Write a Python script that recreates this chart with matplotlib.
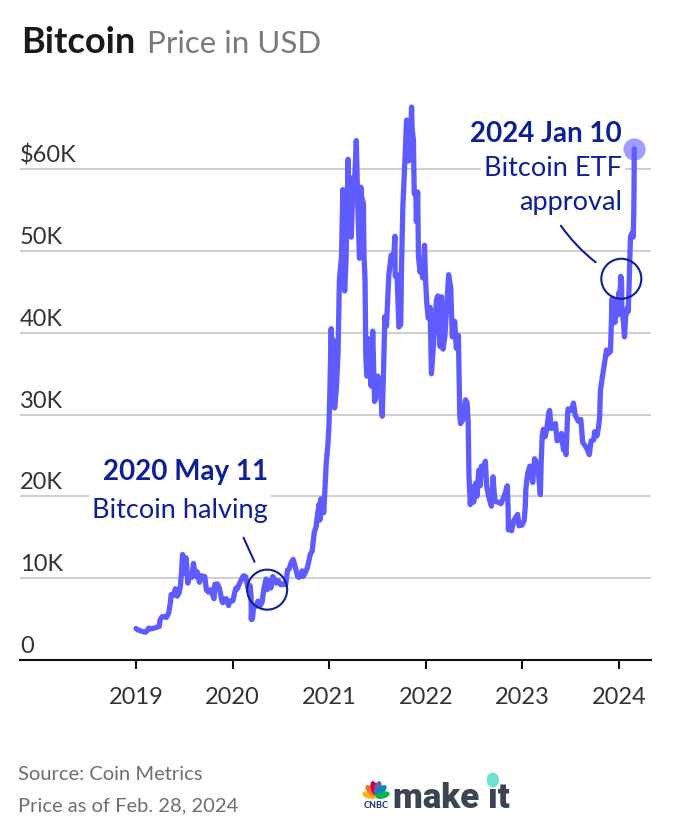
import matplotlib.pyplot as plt
import matplotlib.dates as mdates
from matplotlib.patches import Ellipse, Circle
import numpy as np
import pandas as pd

plt.rcParams['font.family'] = ['Lato', 'DejaVu Sans']

# Bitcoin close price (USD)
dates = [
    '2019-01-01', '2019-01-10', '2019-01-20', '2019-01-28', '2019-02-07', '2019-02-18', '2019-02-24',
    '2019-03-05', '2019-03-15', '2019-03-30', '2019-04-02', '2019-04-10', '2019-04-20', '2019-04-26',
    '2019-05-05', '2019-05-11', '2019-05-14', '2019-05-16', '2019-05-22', '2019-05-30', '2019-06-06',
    '2019-06-13', '2019-06-18', '2019-06-22', '2019-06-26', '2019-06-28', '2019-07-02', '2019-07-09',
    '2019-07-12', '2019-07-16', '2019-07-22', '2019-07-31', '2019-08-06', '2019-08-14', '2019-08-20',
    '2019-08-29', '2019-09-06', '2019-09-18', '2019-09-24', '2019-10-01', '2019-10-10', '2019-10-23',
    '2019-10-26', '2019-11-05', '2019-11-12', '2019-11-22', '2019-11-25', '2019-12-01', '2019-12-08',
    '2019-12-17', '2019-12-20', '2019-12-31',
    '2020-01-03', '2020-01-08', '2020-01-14', '2020-01-19', '2020-01-28', '2020-02-09', '2020-02-13',
    '2020-02-19', '2020-02-25', '2020-03-01', '2020-03-07', '2020-03-11', '2020-03-12', '2020-03-13',
    '2020-03-16', '2020-03-20', '2020-03-26', '2020-04-01', '2020-04-06', '2020-04-15', '2020-04-22',
    '2020-04-29', '2020-05-07', '2020-05-09', '2020-05-11', '2020-05-18', '2020-05-25', '2020-06-01',
    '2020-06-10', '2020-06-15', '2020-06-22', '2020-07-01', '2020-07-10', '2020-07-20', '2020-07-27',
    '2020-08-02', '2020-08-10', '2020-08-17', '2020-08-25', '2020-09-03', '2020-09-08', '2020-09-20',
    '2020-09-23', '2020-10-01', '2020-10-10', '2020-10-21', '2020-10-28', '2020-11-05', '2020-11-12',
    '2020-11-17', '2020-11-24', '2020-11-26', '2020-11-30', '2020-12-08', '2020-12-11', '2020-12-16',
    '2020-12-20', '2020-12-27', '2020-12-31',
    '2021-01-03', '2021-01-08', '2021-01-11', '2021-01-14', '2021-01-21', '2021-01-28', '2021-02-03',
    '2021-02-08', '2021-02-12', '2021-02-16', '2021-02-21', '2021-02-23', '2021-02-28', '2021-03-05',
    '2021-03-13', '2021-03-16', '2021-03-20', '2021-03-25', '2021-04-01', '2021-04-06', '2021-04-13',
    '2021-04-18', '2021-04-25', '2021-04-30', '2021-05-03', '2021-05-10', '2021-05-12', '2021-05-16',
    '2021-05-19', '2021-05-23', '2021-05-26', '2021-06-01', '2021-06-08', '2021-06-14', '2021-06-21',
    '2021-06-26', '2021-07-03', '2021-07-08', '2021-07-14', '2021-07-20', '2021-07-25', '2021-07-30',
    '2021-08-05', '2021-08-14', '2021-08-23', '2021-09-01', '2021-09-06', '2021-09-07', '2021-09-14',
    '2021-09-21', '2021-09-28', '2021-10-01', '2021-10-06', '2021-10-15', '2021-10-20', '2021-10-23',
    '2021-10-28', '2021-11-01', '2021-11-08', '2021-11-10', '2021-11-15', '2021-11-18', '2021-11-24',
    '2021-11-26', '2021-12-01', '2021-12-04', '2021-12-10', '2021-12-15', '2021-12-20', '2021-12-27',
    '2021-12-31',
    '2022-01-05', '2022-01-10', '2022-01-17', '2022-01-22', '2022-01-28', '2022-02-05', '2022-02-10',
    '2022-02-15', '2022-02-24', '2022-03-01', '2022-03-07', '2022-03-14', '2022-03-28', '2022-04-05',
    '2022-04-11', '2022-04-20', '2022-04-26', '2022-05-04', '2022-05-09', '2022-05-12', '2022-05-20',
    '2022-05-31', '2022-06-06', '2022-06-10', '2022-06-13', '2022-06-18', '2022-06-23', '2022-07-01',
    '2022-07-08', '2022-07-13', '2022-07-20', '2022-07-26', '2022-07-30', '2022-08-05', '2022-08-14',
    '2022-08-19', '2022-08-28', '2022-09-06', '2022-09-12', '2022-09-19', '2022-10-01', '2022-10-12',
    '2022-10-25', '2022-11-05', '2022-11-08', '2022-11-09', '2022-11-14', '2022-11-21', '2022-11-30',
    '2022-12-14', '2022-12-19', '2022-12-31',
    '2023-01-08', '2023-01-12', '2023-01-14', '2023-01-21', '2023-01-29', '2023-02-02', '2023-02-09',
    '2023-02-16', '2023-02-22', '2023-03-01', '2023-03-09', '2023-03-10', '2023-03-13', '2023-03-17',
    '2023-03-21', '2023-03-28', '2023-04-03', '2023-04-11', '2023-04-14', '2023-04-20', '2023-04-26',
    '2023-05-06', '2023-05-12', '2023-05-20', '2023-05-29', '2023-06-05', '2023-06-10', '2023-06-15',
    '2023-06-21', '2023-06-23', '2023-07-01', '2023-07-06', '2023-07-13', '2023-07-20', '2023-07-31',
    '2023-08-10', '2023-08-17', '2023-08-28', '2023-09-01', '2023-09-11', '2023-09-18', '2023-09-28',
    '2023-10-01', '2023-10-10', '2023-10-16', '2023-10-20', '2023-10-23', '2023-10-30', '2023-11-09',
    '2023-11-15', '2023-11-20', '2023-11-30', '2023-12-04', '2023-12-05', '2023-12-08', '2023-12-11',
    '2023-12-18', '2023-12-22', '2023-12-28',
    '2024-01-02', '2024-01-03', '2024-01-08', '2024-01-10', '2024-01-11', '2024-01-12', '2024-01-18',
    '2024-01-22', '2024-01-26', '2024-02-01', '2024-02-05', '2024-02-08', '2024-02-12', '2024-02-14',
    '2024-02-20', '2024-02-24', '2024-02-26', '2024-02-27', '2024-02-28',
]
prices = [
    3850, 3650, 3550, 3450, 3400, 3900, 3800,
    3850, 3950, 4100, 4900, 5300, 5300, 5200,
    5800, 7000, 8000, 7900, 7900, 8700, 7800,
    8200, 9100, 10700, 12900, 12400, 10600, 12500,
    11300, 9400, 10300, 10100, 11800, 10200, 10800,
    9500, 10300, 10200, 8600, 8300, 8600, 7500,
    9250, 9300, 8800, 7200, 7000, 7400, 7500,
    6650, 7200, 7200,
    7300, 8100, 8800, 8700, 9400, 10200, 10300,
    10200, 9300, 8600, 9100, 7900, 4950, 5600,
    5000, 6200, 6700, 6650, 7200, 6650, 7100,
    8800, 9900, 9800, 8600, 9700, 8800, 10200,
    9800, 9400, 9700, 9200, 9300, 9200, 11000,
    11100, 11900, 12300, 11400, 10200, 10100, 10900,
    10200, 10600, 11300, 12900, 13300, 15600, 16300,
    17700, 19100, 17100, 19700, 18300, 18000, 21300,
    23900, 26500, 29000,
    32800, 40500, 35500, 39200, 30800, 33400, 37600,
    46400, 47900, 49200, 57500, 48800, 45100, 48800,
    61200, 56000, 58300, 51700, 59000, 58000, 63500,
    56200, 49100, 57800, 56600, 55800, 49700, 46400,
    37000, 34700, 39300, 36700, 33500, 40200, 31600,
    32200, 34700, 32900, 32800, 29800, 35400, 42000,
    40800, 47100, 49500, 48800, 51800, 46900, 47100,
    40700, 41000, 48200, 55400, 62000, 66000, 61300,
    61000, 61300, 67600, 64900, 63600, 57000, 57100,
    53600, 57200, 49300, 47400, 48900, 46700, 50700,
    46300,
    43400, 41800, 43100, 35000, 37700, 41500, 44000,
    44500, 38300, 44400, 38000, 39600, 47100, 45500,
    39500, 41400, 38100, 39700, 30100, 28900, 29300,
    31800, 31400, 29100, 22500, 19000, 21200, 19300,
    21600, 20000, 23200, 21300, 23700, 23200, 24300,
    21200, 19800, 18800, 22400, 19400, 19300, 19100,
    20100, 21300, 18500, 15900, 16600, 15800, 17100,
    17800, 16400, 16500,
    17100, 18800, 20900, 22800, 23700, 23500, 21700,
    24600, 24200, 23600, 20400, 20200, 24200, 27400,
    28200, 27300, 28200, 30300, 30500, 28300, 28400,
    28900, 26800, 26900, 27700, 25700, 25800, 25100,
    30100, 30700, 30600, 30500, 31400, 29900, 29200,
    29400, 26600, 26100, 25900, 25100, 26800, 26900,
    27900, 27400, 28500, 29700, 33000, 34500, 36700,
    37900, 37400, 37700, 41900, 44100, 44200, 41200,
    41300, 44000, 42200,
    45000, 42800, 46900, 46600, 46300, 42800, 41300,
    39500, 41800, 43000, 42600, 45300, 50000, 51800,
    52200, 51700, 54500, 57000, 62500,
]

halving_date = '2020-05-11'
etf_date = '2024-01-10'

ytick_values = [0, 10000, 20000, 30000, 40000, 50000, 60000]
ytick_labels = ['0', '10K', '20K', '30K', '40K', '50K', '$60K']
years = [2019, 2020, 2021, 2022, 2023, 2024]

LINE = '#5f5cff'
NAVY = '#0f1f96'
TICK = '#333333'

W, H = 676, 840
fig = plt.figure(figsize=(W / 100, H / 100), dpi=100)


def fx(px):
    return px / W


def fy(py):
    return 1 - py / H


ax = fig.add_axes([fx(20), fy(660), fx(651) - fx(20), fy(71) - fy(660)])

t = pd.to_datetime(dates)
ax.plot(t, prices, color=LINE, lw=3.8, solid_joinstyle='round', solid_capstyle='round', zorder=3)
ax.plot(t[-1:], prices[-1:], 'o', ms=16, color=LINE, alpha=0.6, mew=0, zorder=4)

# axis ranges: 96.6 px per year, 2019 tick at x=136
px_day = 96.6 / 365.25
x0 = mdates.date2num(pd.Timestamp('2019-01-01'))
ax.set_xlim(x0 - (136 - 20) / px_day, x0 + (651 - 136) / px_day)
ax.set_ylim(0, 72000)

for s in ['top', 'right', 'left']:
    ax.spines[s].set_visible(False)
ax.spines['bottom'].set_linewidth(1.5)
ax.spines['bottom'].set_color('#111111')

ax.set_xticks([pd.Timestamp(f'{y}-01-01') for y in years])
ax.set_xticklabels([str(y) for y in years])
ax.tick_params(axis='x', length=6.5, width=1.5, color='#111111', pad=13,
               labelsize=17, labelcolor=TICK)
ax.set_yticks([])

for v, lab in zip(ytick_values, ytick_labels):
    if v > 0:
        ax.axhline(v, color='#d0d0d0', lw=1.5, zorder=1)
    ax.annotate(lab, xy=(0, v), xycoords=ax.get_yaxis_transform(), xytext=(0, 5),
                textcoords='offset points', ha='left', va='baseline', fontsize=17,
                color=TICK, zorder=2)

# annotations
for d, head, sub, offs in [
    (halving_date, '2020 May 11', ['Bitcoin halving'], (79, 51.8)),
    (etf_date, '2024 Jan 10', ['Bitcoin ETF', 'approval'], (98.6, 74.2, 49.7)),
]:
    v = prices[dates.index(d)]
    xd = pd.Timestamp(d)
    ax.scatter([xd], [v], s=830, facecolors='none', edgecolors=NAVY, linewidths=1.5, zorder=5)
    ax.annotate(head, xy=(xd, v), xytext=(0.5, offs[0]), textcoords='offset points',
                ha='right', va='baseline', fontsize=20, fontweight='bold', color=NAVY, zorder=6)
    for line, o in zip(sub, offs[1:]):
        ax.annotate(line, xy=(xd, v), xytext=(0.5, o), textcoords='offset points',
                    ha='right', va='baseline', fontsize=19.5, color=NAVY, zorder=6,
                    bbox=dict(boxstyle='square,pad=0.1', fc='white', ec='none'))

hv = prices[dates.index(halving_date)]
ax.annotate('', xy=(pd.Timestamp(halving_date), hv), xytext=(-17, 37.4), textcoords='offset points',
            arrowprops=dict(arrowstyle='-', shrinkA=0, shrinkB=22, lw=1.5, color=NAVY))
ev = prices[dates.index(etf_date)]
ax.annotate('', xy=(pd.Timestamp(etf_date), ev), xytext=(-43.5, 38.2), textcoords='offset points',
            arrowprops=dict(arrowstyle='-', shrinkA=0, shrinkB=22, lw=1.5, color=NAVY,
                            connectionstyle='arc3,rad=0.12'))

# title
renderer = fig.canvas.get_renderer()
t1 = fig.text(fx(21), fy(53), 'Bitcoin', fontsize=26, fontweight='bold', color='#1a1a1a', va='baseline')
bb = t1.get_window_extent(renderer)
fig.text((bb.x1 + 12) / W, fy(53), 'Price in USD', fontsize=22.5, color='#7a7a7a', va='baseline')

# footer
fig.text(fx(18), fy(780), 'Source: Coin Metrics', fontsize=14.5, color='#6e6e6e', va='baseline')
fig.text(fx(18), fy(811), 'Price as of Feb. 28, 2024', fontsize=14.5, color='#6e6e6e', va='baseline')

# make it logo
logo_kw = dict(fontsize=25, fontweight='black', family='Roboto', color='#3b4451', va='baseline')
lx, ly = fx(393), fy(808)
fig.text(lx, ly, 'make \u0131t', **logo_kw)
tmp = fig.text(lx, ly, 'make ', **logo_kw)
tmp_i = fig.text(lx, ly, 'make \u0131', **logo_kw)
b0 = tmp.get_window_extent(renderer)
b1 = tmp_i.get_window_extent(renderer)
tmp.remove()
tmp_i.remove()
dot_x = (b0.x1 + b1.x1) / 2
fig.add_artist(Circle((dot_x / W, fy(780)), 5.5 / W, transform=fig.transFigure,
                      color='#6fe3d2', zorder=5))

# peacock
pax = fig.add_axes([fx(362), fy(800), fx(390) - fx(362), fy(777) - fy(800)])
pax.set_xlim(-1.25, 1.25)
pax.set_ylim(-0.1, 2.0)
pax.axis('off')
feather_colors = ['#fcb711', '#f37021', '#cc004c', '#6460aa', '#0089d0', '#0db14b']
for ang, c in zip(np.linspace(165, 15, 6), feather_colors):
    r = np.deg2rad(ang)
    pax.add_patch(Ellipse((0.62 * np.cos(r), 0.1 + 0.62 * np.sin(r) * 1.5), 0.5, 1.15,
                          angle=ang - 90, color=c))
fig.text(fx(376), fy(808), 'CNBC', fontsize=6.5, fontweight='bold', color='#1b2a6b',
         ha='center', va='baseline')

fig.savefig('out.png', dpi=100)
